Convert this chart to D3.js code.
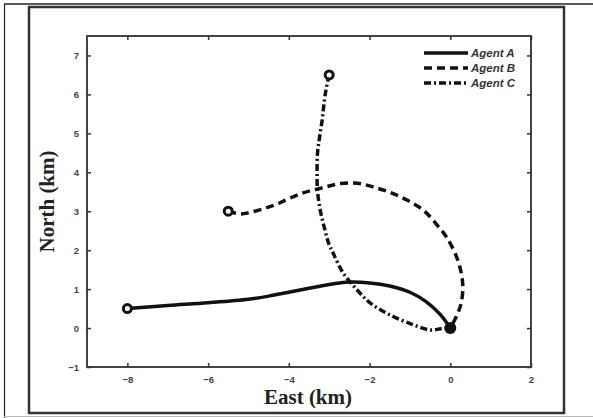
<!DOCTYPE html>
<html><head><meta charset="utf-8">
<script src="https://cdn.jsdelivr.net/npm/d3@7"></script>
<style>body{margin:0;background:#fff}svg{display:block}</style>
</head><body>
<svg id="c" width="593" height="418"></svg>
<script>
// ---- data ----
const xTicks = [-8, -6, -4, -2, 0, 2];
const yTicks = [-1, 0, 1, 2, 3, 4, 5, 6, 7];
const agentNames = ["Agent A", "Agent B", "Agent C"];
const agentA = [[-8,0.5],[-7,0.58],[-6,0.65],[-5,0.74],[-4.5,0.82],[-4,0.92],[-3.5,1.02],[-3,1.12],[-2.5,1.18],[-2,1.16],[-1.5,1.08],[-1,0.92],[-0.6,0.68],[-0.25,0.35],[0,0]];
const agentB = [[-5.5,3.0],[-5.2,2.93],[-4.96,2.97],[-4.38,3.15],[-3.71,3.45],[-3.14,3.61],[-2.72,3.71],[-2.3,3.72],[-1.9,3.62],[-1.48,3.48],[-1.06,3.28],[-0.66,3.02],[-0.32,2.64],[-0.07,2.3],[0.2,1.7],[0.31,1.1],[0.26,0.6],[0.13,0.25],[0,0]];
const agentC = [[-3,6.5],[-3.07,6.17],[-3.12,5.84],[-3.17,5.37],[-3.24,4.89],[-3.29,4.48],[-3.3,3.99],[-3.29,3.53],[-3.22,3.02],[-3.12,2.58],[-3.02,2.2],[-2.9,1.92],[-2.65,1.41],[-2.3,0.97],[-1.98,0.64],[-1.48,0.33],[-0.91,0.08],[-0.49,-0.05],[-0.24,-0.02],[0,0]];
const xDomain = [-9, 2];
const yDomain = [-1, 7.5];

const svg = d3.select("#c");
const L = 87, R = 531, T = 36, B = 367;
const x = d3.scaleLinear().domain(xDomain).range([L, R]);
const y = d3.scaleLinear().domain(yDomain).range([B, T]);

// outer page lines
svg.append("line").attr("x1",4.5).attr("x2",4.5).attr("y1",4).attr("y2",418).attr("stroke","#222").attr("stroke-width",1.2);
svg.append("line").attr("x1",4).attr("x2",593).attr("y1",4).attr("y2",4).attr("stroke","#222").attr("stroke-width",1.5);
svg.append("line").attr("x1",4).attr("x2",593).attr("y1",416.5).attr("y2",416.5).attr("stroke","#bbb").attr("stroke-width",1);
// figure frame
svg.append("rect").attr("x",29).attr("y",7).attr("width",535).attr("height",406)
  .attr("fill","none").attr("stroke","#333").attr("stroke-width",2.5);

// axes box
svg.append("rect").attr("x",L).attr("y",T).attr("width",R-L).attr("height",B-T)
  .attr("fill","none").attr("stroke","#444").attr("stroke-width",2);

const tickFont = "'Liberation Sans', Arial, sans-serif";
// x ticks
const xa = svg.append("g").attr("transform",`translate(0,${B})`)
  .call(d3.axisBottom(x).tickValues(xTicks).tickSize(-4).tickPadding(9).tickFormat(d3.format("d")));
const xt = svg.append("g").attr("transform",`translate(0,${T})`)
  .call(d3.axisTop(x).tickValues(xTicks).tickSize(-4).tickFormat(""));
const ya = svg.append("g").attr("transform",`translate(${L},0)`)
  .call(d3.axisLeft(y).tickValues(yTicks).tickSize(-4).tickPadding(8).tickFormat(d3.format("d")));
const yr = svg.append("g").attr("transform",`translate(${R},0)`)
  .call(d3.axisRight(y).tickValues(yTicks).tickSize(-4).tickFormat(""));
[xa,xt,ya,yr].forEach(g=>{
  g.select(".domain").remove();
  g.selectAll(".tick line").attr("stroke","#333").attr("stroke-width",1.5);
  g.selectAll("text").attr("font-family",tickFont).attr("font-size",9.5).attr("font-weight","bold").attr("fill","#444");
});

// axis labels
svg.append("text").attr("x",(L+R)/2 - 1).attr("y",404).attr("text-anchor","middle")
  .attr("font-family","'Liberation Serif', 'Times New Roman', serif").attr("font-weight","bold")
  .attr("font-size",21).attr("fill","#222").text("East (km)");
svg.append("text").attr("transform",`translate(54,${(T+B)/2}) rotate(-90)`).attr("text-anchor","middle")
  .attr("font-family","'Liberation Serif', 'Times New Roman', serif").attr("font-weight","bold")
  .attr("font-size",21).attr("fill","#222").text("North (km)");

// lines
const line = d3.line().x(d=>x(d[0])).y(d=>y(d[1])).curve(d3.curveCatmullRom.alpha(0.5));
const series = [agentA, agentB, agentC];
const dashes = [null, "8,5", "7,3,2,3"];
series.forEach((s,i)=>{
  svg.append("path").datum(s).attr("d",line).attr("fill","none").attr("stroke","#111")
    .attr("stroke-width",3.5).attr("stroke-dasharray",dashes[i]);
});
// start markers
series.forEach(s=>{
  svg.append("circle").attr("cx",x(s[0][0])).attr("cy",y(s[0][1])).attr("r",4)
    .attr("fill","#fff").attr("stroke","#111").attr("stroke-width",3);
});
// end marker
svg.append("circle").attr("cx",x(0)).attr("cy",y(0)).attr("r",6).attr("fill","#111");

// legend
const lg = svg.append("g");
agentNames.forEach((n,i)=>{
  const yy = 53 + i*15;
  lg.append("line").attr("x1",424).attr("x2",468).attr("y1",yy).attr("y2",yy)
    .attr("stroke","#111").attr("stroke-width",3.5).attr("stroke-dasharray",dashes[i]);
  lg.append("text").attr("x",471).attr("y",yy+4).attr("font-family",tickFont).attr("font-weight","bold")
    .attr("font-style","italic").attr("font-size",11.5).attr("fill","#333").text(n);
});
</script>
</body></html>
